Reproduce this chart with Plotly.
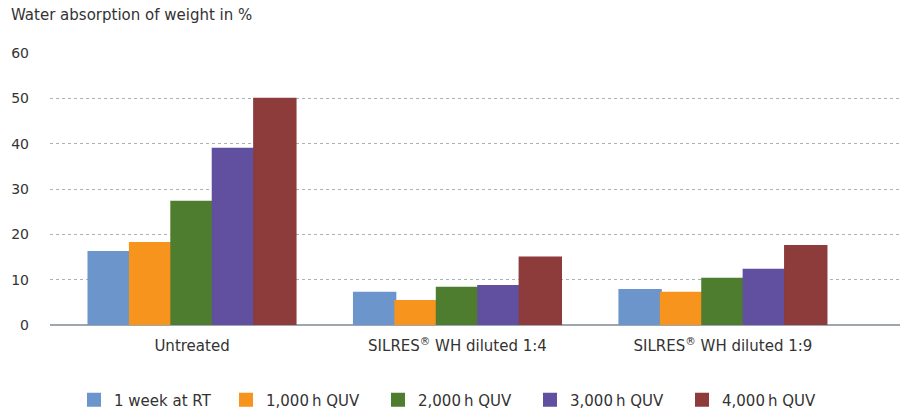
import plotly.graph_objects as go

categories = ["Untreated", "SILRES<sup>®</sup> WH diluted 1:4", "SILRES<sup>®</sup> WH diluted 1:9"]
series_names = ["1 week at RT", "1,000\u2009h QUV", "2,000\u2009h QUV", "3,000\u2009h QUV", "4,000\u2009h QUV"]
week_rt = [16.1, 7.1, 7.7]
quv_1000 = [18.1, 5.3, 7.1]
quv_2000 = [27.2, 8.2, 10.2]
quv_3000 = [38.9, 8.6, 12.2]
quv_4000 = [49.9, 14.9, 17.4]
y_ticks = [0, 10, 20, 30, 40, 50, 60]

series_values = [week_rt, quv_1000, quv_2000, quv_3000, quv_4000]
colors = ["#6B95CB", "#F7941E", "#4F7D2F", "#6150A0", "#8D3B3B"]

font_family = "DejaVu Sans, Liberation Sans, Arial, sans-serif"
text_color = "#333333"

fig = go.Figure()
for name, vals, col in zip(series_names, series_values, colors):
    fig.add_trace(go.Bar(x=categories, y=vals, name=name,
                         marker=dict(color=col, line=dict(width=2, color=col))))

fig.update_layout(
    width=907, height=410,
    barmode="group", bargap=0.22, bargroupgap=0,
    margin=dict(l=50, r=7, t=53, b=85, autoexpand=False),
    plot_bgcolor="white", paper_bgcolor="white",
    font=dict(family=font_family, color=text_color, size=15),
    showlegend=True,
    legend=dict(orientation="h", x=(74-50)/850, xanchor="left", y=-(400-325)/272, yanchor="middle",
                entrywidth=107, entrywidthmode="pixels", font=dict(size=15, color=text_color),
                traceorder="normal", borderwidth=0, bgcolor="rgba(0,0,0,0)"),
    annotations=[dict(text="Water absorption of weight in %", xref="paper", yref="paper",
                      x=-41/850, y=1 + (53-15)/272, xanchor="left", yanchor="middle",
                      showarrow=False, font=dict(size=15, color=text_color, family=font_family))],
)
fig.update_xaxes(range=[-0.535, 2.667], showgrid=False, showline=False, ticks="",
                 tickfont=dict(size=15, color=text_color), ticklabelstandoff=10)
fig.update_yaxes(range=[0, 60], tickvals=y_ticks, showgrid=True, gridcolor="#A9B3BD",
                 griddash="3px,3px", gridwidth=1, zeroline=True, zerolinecolor="#9EA7B0",
                 zerolinewidth=2, showline=False, ticks="", ticklabelstandoff=20,
                 tickfont=dict(size=14, color=text_color))

fig.write_html("out.html", config={"displayModeBar": False},
               post_script="document.body.style.margin='0';document.body.style.overflow='hidden';")
